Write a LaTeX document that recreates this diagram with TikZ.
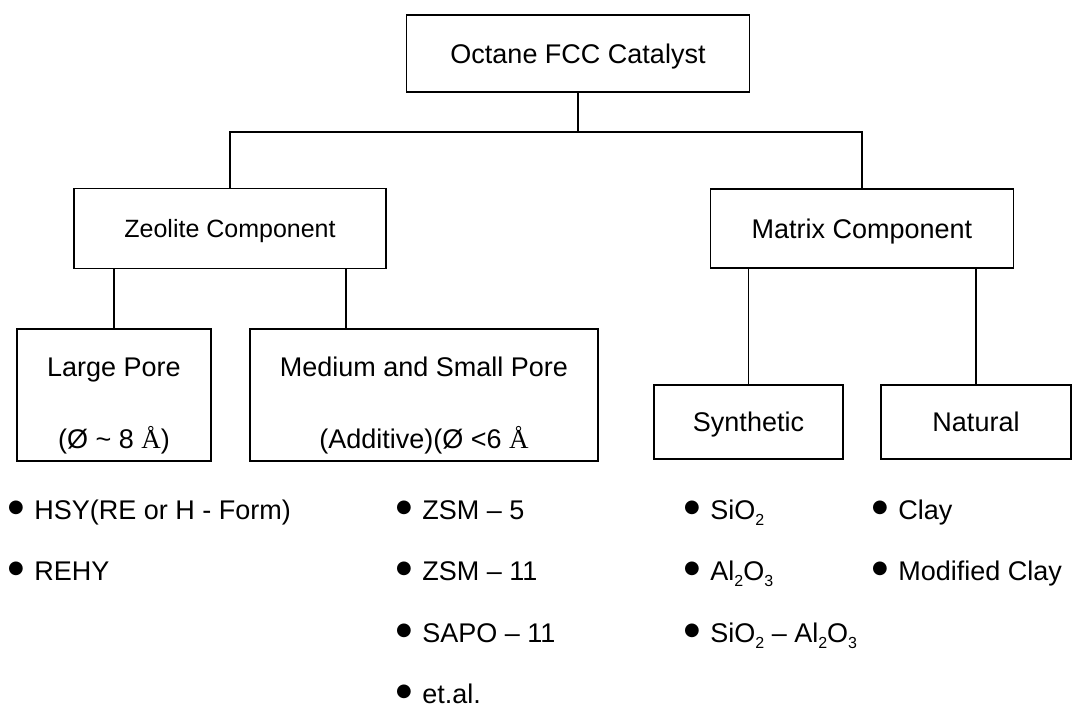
\documentclass[tikz,border=0pt]{standalone}
\usepackage{fontspec}
\setmainfont{Liberation Sans}
\newfontfamily\dotfont{DejaVu Sans}
\newfontfamily\angfont{Liberation Serif}
\usetikzlibrary{positioning}

\newcommand{\bul}{\raisebox{7pt}{\dotfont\fontsize{18}{18}\selectfont ●}\hspace{10.5pt}}
\newcommand{\angst}{{\angfont Å}}
\newcommand{\sub}[1]{\raisebox{-6pt}{\fontsize{16}{16}\selectfont #1}}

\begin{document}
\begin{tikzpicture}[x=1pt, y=-1pt, node distance=61.5pt]
% Node styles
\tikzstyle{box} = [rectangle, draw=black, line width=1.8pt, text centered, align=center, font=\fontsize{27}{32}\selectfont]
\tikzstyle{oneline} = [text depth=0pt]
\tikzstyle{twoline} = [inner ysep=2pt]
\tikzstyle{item} = [anchor=base west, inner sep=0pt, font=\fontsize{27}{32}\selectfont]
\tikzstyle{line} = [line width=1.3pt]

\useasboundingbox (0,0) rectangle (1072,711);

% Nodes
\node [box, oneline, minimum width=343pt, minimum height=77pt] (catalyst) at (578,53.5) {Octane FCC Catalyst};
\node [box, oneline, minimum width=312pt, minimum height=80pt, font=\fontsize{25}{30}\selectfont] (zeolite) at (230,228.5) {Zeolite Component};
\node [box, oneline, minimum width=303pt, minimum height=79pt] (matrix) at (862,228.5) {Matrix Component};
\node [box, twoline, minimum width=194pt, minimum height=132pt] (large) at (114,395) {\rule{0pt}{40pt}Large Pore\\[40pt](Ø \textasciitilde{} 8 \angst)};
\node [box, twoline, minimum width=348pt, minimum height=132pt] (medium) at (424,395) {\rule{0pt}{40pt}Medium and Small Pore\\[40pt](Additive)(Ø <6 \angst};
\node [box, oneline, minimum width=189pt, minimum height=74pt] (synthetic) at (748.5,422) {Synthetic};
\node [box, oneline, minimum width=190pt, minimum height=74pt] (natural) at (976,422) {Natural};

% Lists
\node [item] (hsy) at (8,519) {\bul HSY(RE or H - Form)};
\node [below=of hsy.base west, item] (rehy) {\bul REHY};

\node [item] (zsm5) at (396,519) {\bul ZSM – 5};
\node [below=of zsm5.base west, item] (zsm11) {\bul ZSM – 11};
\node [below=of zsm11.base west, item] (sapo) {\bul SAPO – 11};
\node [below=of sapo.base west, item] (etal) {\bul et.al.};

\node [item] (sio) at (684,519) {\bul SiO\sub{2}};
\node [below=of sio.base west, item] (alo) {\bul Al\sub{2}O\sub{3}};
\node [below=of alo.base west, item] (sialo) {\bul SiO\sub{2} – Al\sub{2}O\sub{3}};

\node [item] (clay) at (872,519) {\bul Clay};
\node [below=of clay.base west, item] (modclay) {\bul Modified Clay};

% Lines
\coordinate (medtop) at ([xshift=-78pt]medium.north);
\draw [line] (catalyst.south) -- ++(0,39) coordinate (split);
\draw [line] (zeolite.north) |- (split) -| (matrix.north);
\draw [line] (zeolite.south -| large.north) -- (large.north);
\draw [line] (medtop |- zeolite.south) -- (medtop);
\draw [line] (matrix.south -| synthetic.north) -- (synthetic.north);
\draw [line] (matrix.south -| natural.north) -- (natural.north);
\end{tikzpicture}
\end{document}
